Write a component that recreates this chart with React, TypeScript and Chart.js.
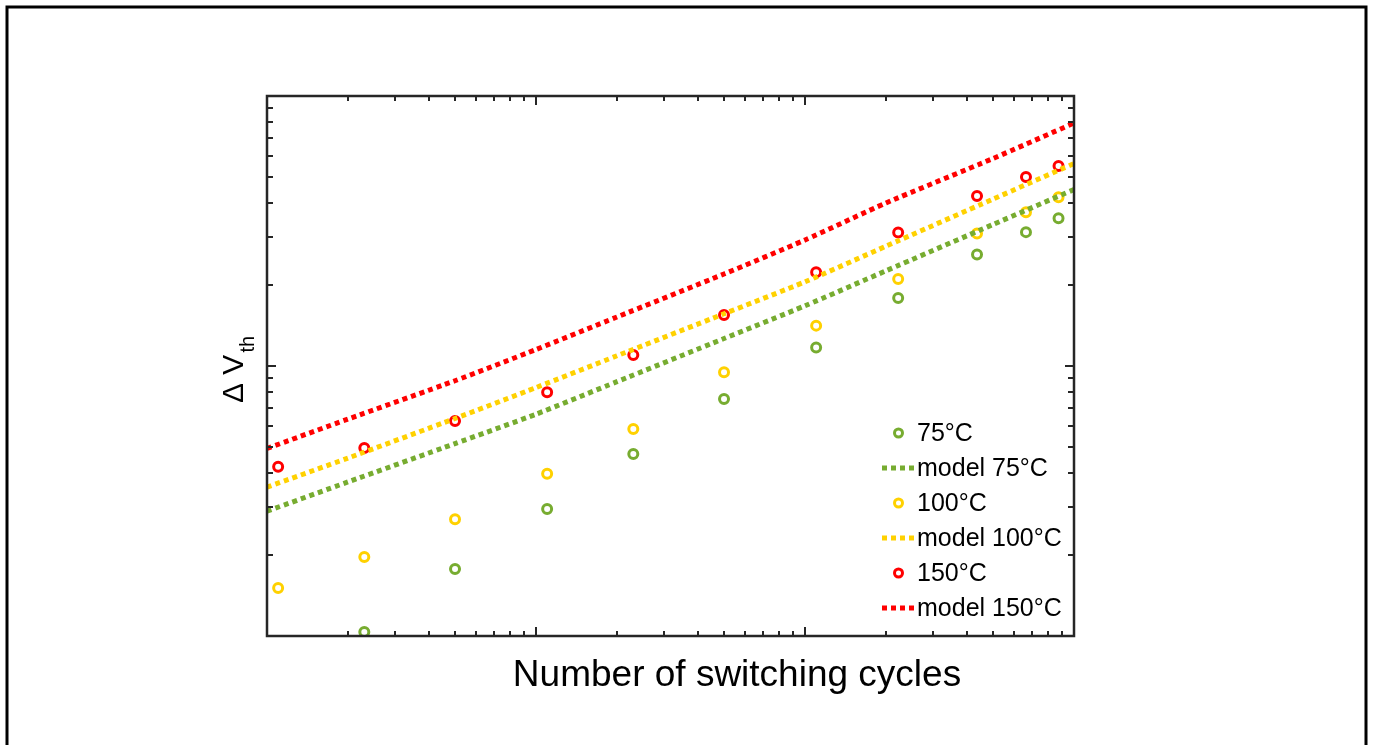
import { useEffect, useRef } from "react";
import { Chart, registerables } from "chart.js";
Chart.register(...registerables);

// Measured data (number of switching cycles vs. ΔVth, arbitrary log units)
const cycles = [1100, 2300, 5000, 11000, 23000, 50000, 110000, 222000, 436000, 663000, 876000];
const dv75 = [null, 0.1035, 0.177, 0.2954, 0.472, 0.755, 1.17, 1.786, 2.59, 3.132, 3.527];
const dv100 = [0.1506, 0.1962, 0.2705, 0.3992, 0.5843, 0.948, 1.411, 2.1, 3.098, 3.712, 4.216];
const dv150 = [0.4236, 0.497, 0.6255, 0.799, 1.098, 1.545, 2.223, 3.125, 4.263, 5.01, 5.51];

// Model curves
const modelCycles = [1e3, 2e3, 5e3, 1e4, 2e4, 5e4, 1e5, 2e5, 5e5, 1e6];
const model75 = [0.29, 0.372, 0.516, 0.663, 0.875, 1.264, 1.671, 2.252, 3.343, 4.505];
const model100 = [0.356, 0.456, 0.639, 0.832, 1.091, 1.561, 2.05, 2.778, 4.151, 5.623];
const model150 = [0.495, 0.636, 0.882, 1.151, 1.519, 2.192, 2.929, 4.016, 5.869, 7.94];

const seriesLabels = ["75°C", "model 75°C", "100°C", "model 100°C", "150°C", "model 150°C"];
const xTitle = "Number of switching cycles";
const yTitleMain = "\u0394 V";
const yTitleSub = "th";

const GREEN = "#77AC30";
const YELLOW = "#FFD100";
const RED = "#FF0000";
const AXIS = "#262626";
const FONT = "'Liberation Sans', Arial, Helvetica, sans-serif";

const X_MIN = 1e3, X_MAX = 1e6, Y_MIN = 0.1, Y_MAX = 10;

const pts = (xs: number[], ys: (number | null)[]) =>
  xs.map((x, i) => ({ x, y: ys[i] })).filter((p) => p.y !== null);

function logTicks(min: number, max: number) {
  const out: { v: number; major: boolean }[] = [];
  for (let d = Math.floor(Math.log10(min)); d <= Math.ceil(Math.log10(max)); d++) {
    for (let k = 1; k <= 9; k++) {
      const v = k * Math.pow(10, d);
      if (v >= min * 0.9999 && v <= max * 1.0001) out.push({ v, major: k === 1 });
    }
  }
  return out;
}

const decorPlugin = {
  id: "decor",
  afterDatasetsDraw(chart: any) {
    const { ctx, chartArea: a, scales } = chart;
    const xs = scales.x, ys = scales.y;
    ctx.save();
    ctx.strokeStyle = AXIS;
    ctx.lineWidth = 2.5;
    ctx.setLineDash([]);
    ctx.strokeRect(a.left, a.top, a.right - a.left, a.bottom - a.top);
    ctx.lineWidth = 2;
    ctx.beginPath();
    for (const t of logTicks(X_MIN, X_MAX)) {
      const px = Math.round(xs.getPixelForValue(t.v));
      const len = t.major ? 9 : 5;
      ctx.moveTo(px, a.bottom); ctx.lineTo(px, a.bottom - len);
      ctx.moveTo(px, a.top); ctx.lineTo(px, a.top + len);
    }
    for (const t of logTicks(Y_MIN, Y_MAX)) {
      const py = Math.round(ys.getPixelForValue(t.v));
      const len = t.major ? 9 : 6;
      ctx.moveTo(a.left, py); ctx.lineTo(a.left + len, py);
      ctx.moveTo(a.right, py); ctx.lineTo(a.right - len, py);
    }
    ctx.stroke();
    ctx.restore();
  },
  afterDraw(chart: any) {
    const { ctx } = chart;
    ctx.save();
    // outer frame
    ctx.strokeStyle = "#000";
    ctx.lineWidth = 3;
    ctx.setLineDash([]);
    ctx.beginPath();
    ctx.moveTo(7, 760); ctx.lineTo(7, 7); ctx.lineTo(1366, 7); ctx.lineTo(1366, 760);
    ctx.stroke();

    // x title
    ctx.fillStyle = "#000";
    ctx.font = `37px ${FONT}`;
    ctx.textAlign = "center";
    ctx.textBaseline = "alphabetic";
    ctx.fillText(xTitle, 737, 686);

    // y title (rotated)
    ctx.save();
    ctx.translate(243, 403);
    ctx.rotate(-Math.PI / 2);
    ctx.textAlign = "left";
    ctx.font = `30px ${FONT}`;
    ctx.fillText(yTitleMain, 0, 0);
    const w = ctx.measureText(yTitleMain).width;
    ctx.font = `20px ${FONT}`;
    ctx.fillText(yTitleSub, w + 2, 11);
    ctx.restore();

    // legend
    const ds = chart.data.datasets;
    ds.forEach((d: any, i: number) => {
      const y = 433 + 35 * i;
      ctx.save();
      if (d.showLine) {
        ctx.strokeStyle = d.borderColor;
        ctx.lineWidth = 5;
        ctx.setLineDash([5, 4]);
        ctx.beginPath();
        ctx.moveTo(882, y); ctx.lineTo(915, y);
        ctx.stroke();
      } else {
        ctx.strokeStyle = d.borderColor;
        ctx.lineWidth = 3;
        ctx.beginPath();
        ctx.arc(898.5, y, 4, 0, Math.PI * 2);
        ctx.stroke();
      }
      ctx.restore();
      ctx.fillStyle = "#000";
      ctx.font = `25px ${FONT}`;
      ctx.textAlign = "left";
      ctx.textBaseline = "middle";
      ctx.fillText(d.label, 917, y + 1);
    });
    ctx.restore();
  },
};

export default function App() {
  const ref = useRef<HTMLCanvasElement>(null);
  useEffect(() => {
    if (!ref.current) return;
    const scatter = (label: string, data: any, color: string) => ({
      type: "scatter" as const,
      label,
      data,
      showLine: false,
      borderColor: color,
      backgroundColor: "rgba(0,0,0,0)",
      pointRadius: 4.5,
      pointBorderWidth: 3,
      pointHoverRadius: 4.5,
    });
    const model = (label: string, data: any, color: string) => ({
      type: "line" as const,
      label,
      data,
      showLine: true,
      borderColor: color,
      backgroundColor: color,
      borderWidth: 5,
      borderDash: [5, 4],
      borderCapStyle: "butt",
      pointRadius: 0,
      tension: 0.2,
      fill: false,
    });
    const chart = new Chart(ref.current, {
      type: "scatter",
      data: {
        datasets: [
          scatter(seriesLabels[0], pts(cycles, dv75), GREEN),
          model(seriesLabels[1], pts(modelCycles, model75), GREEN),
          scatter(seriesLabels[2], pts(cycles, dv100), YELLOW),
          model(seriesLabels[3], pts(modelCycles, model100), YELLOW),
          scatter(seriesLabels[4], pts(cycles, dv150), RED),
          model(seriesLabels[5], pts(modelCycles, model150), RED),
        ] as any,
      },
      options: {
        animation: false,
        responsive: false,
        devicePixelRatio: 1,
        layout: { padding: { left: 267, right: 299, top: 96, bottom: 109 } },
        scales: {
          x: { type: "logarithmic", min: X_MIN, max: X_MAX, display: false },
          y: { type: "logarithmic", min: Y_MIN, max: Y_MAX, display: false },
        },
        plugins: { legend: { display: false }, tooltip: { enabled: false } },
        events: [],
      } as any,
      plugins: [decorPlugin],
    });
    return () => chart.destroy();
  }, []);
  return (
    <canvas
      ref={ref}
      width={1373}
      height={745}
      style={{ position: "fixed", left: 0, top: 0, width: 1373, height: 745 }}
    />
  );
}
